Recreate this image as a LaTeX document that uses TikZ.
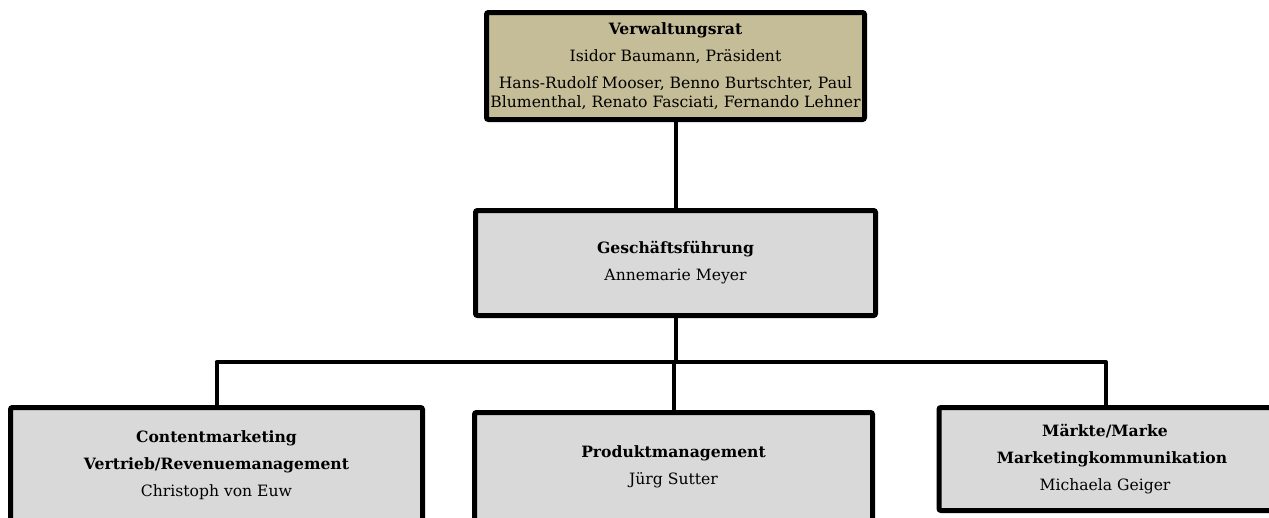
\documentclass[tikz,border=0pt]{standalone}
\usepackage{fontspec}
\setmainfont{DejaVu Serif}
\usetikzlibrary{positioning}
\definecolor{tanfill}{HTML}{C4BD97}
\definecolor{greyfill}{HTML}{D9D9D9}
\tikzset{
  orgbox/.style={draw=black, line width=5pt, rounded corners=2pt, inner sep=0pt,
    align=center, font=\fontsize{15.6}{18.5}\selectfont, text=black},
  conn/.style={draw=black, line width=4pt, line join=round}
}
\begin{document}
\begin{tikzpicture}[x=1pt, y=-1pt]
\useasboundingbox (0,0) rectangle (1269,517);
\clip (0,0) rectangle (1269,517);
\node[orgbox, fill=tanfill, minimum width=378pt, minimum height=107pt] (vr) at (675.5,66)
  {\textbf{Verwaltungsrat}\\[8.5pt]Isidor Baumann, Präsident\\[8.5pt]Hans-Rudolf Mooser, Benno Burtschter, Paul\\Blumenthal, Renato Fasciati, Fernando Lehner};
\node[orgbox, fill=greyfill, minimum width=400pt, minimum height=105pt] (gf) at (675.5,263)
  {\textbf{Geschäftsführung}\\[8.5pt]Annemarie Meyer};
\node[orgbox, fill=greyfill, minimum width=412pt, minimum height=115pt] (cm) at (216.5,465)
  {\textbf{Contentmarketing}\\[8.5pt]\textbf{Vertrieb/Revenuemanagement}\\[8.5pt]Christoph von Euw};
\node[orgbox, fill=greyfill, minimum width=398pt, minimum height=108pt] (pm) at (673.5,466.5)
  {\textbf{Produktmanagement}\\[8.5pt]Jürg Sutter};
\node[orgbox, fill=greyfill, minimum width=346pt, minimum height=103pt] (mm) at (1112,459)
  {\textbf{Märkte/Marke}\hspace*{14pt}\\[8.5pt]\textbf{Marketingkommunikation}\hspace*{14pt}\\[8.5pt]Michaela Geiger\hspace*{14pt}};
\coordinate (bus) at (677,362);
\coordinate (mmtop) at (1106,410);
\draw[conn] (vr.south) -- (gf.north);
\draw[conn] (gf.south) -- (gf.south |- bus);
\draw[conn] (cm.north) |- (bus) -| (mmtop |- mm.north);
\draw[conn] (pm.north |- bus) -- (pm.north);
\end{tikzpicture}
\end{document}
